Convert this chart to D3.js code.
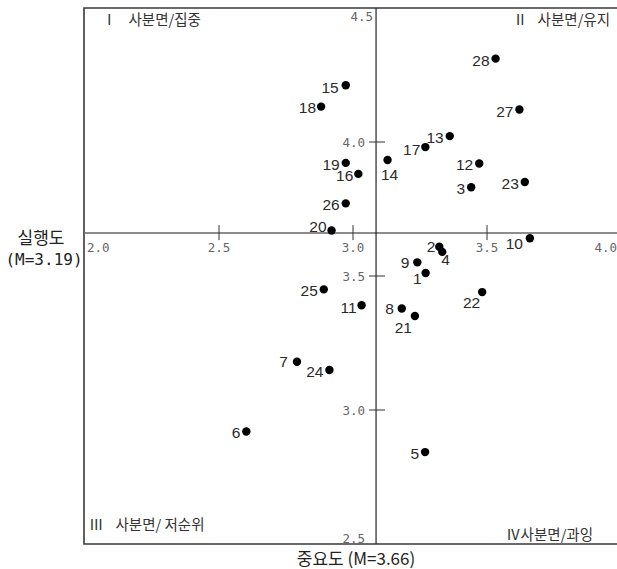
<!DOCTYPE html>
<html>
<head>
<meta charset="utf-8">
<script src="https://cdn.jsdelivr.net/npm/d3@7/dist/d3.min.js"></script>
<style>
  html, body { margin: 0; padding: 0; background: #fff; }
  svg { display: block; }
</style>
</head>
<body>
<div id="chart"></div>
<script>
// ---- data ----
const ids = [1,2,3,4,5,6,7,8,9,10,11,12,13,14,15,16,17,18,19,20,21,22,23,24,25,26,27,28];
const importance = [3.271,3.322,3.441,3.333,3.269,2.602,2.791,3.182,3.240,3.660,3.032,3.471,3.361,3.129,2.973,3.020,3.270,2.881,2.973,2.920,3.231,3.482,3.641,2.912,2.891,2.973,3.621,3.532];
const performance = [3.511,3.609,3.831,3.590,2.843,2.920,3.180,3.379,3.551,3.641,3.391,3.920,4.022,3.933,4.212,3.881,3.981,4.132,3.922,3.670,3.351,3.440,3.851,3.149,3.450,3.771,4.121,4.311];
const xTickValues = [2.0, 2.5, 3.0, 3.5, 4.0];
const xTickLabels = ["2.0", "2.5", "3.0", "3.5", "4.0"];
const yTickValues = [4.0, 3.5, 3.0];
const yTickLabels = ["4.0", "3.5", "3.0"];
const yEndLabels = ["4.5", "2.5"];
const crossX = 3.086;   // vertical reference line (importance)
const crossY = 3.66;    // horizontal reference line
const quadrantNumerals = ["Ⅰ", "Ⅱ", "Ⅲ", "Ⅳ"];
const quadrantNames = ["사분면/집중", "사분면/유지", "사분면/ 저순위", "사분면/과잉"];
const yTitle = ["실행도", "(M=3.19)"];
const xTitle = "중요도 (M=3.66)";

// label placement tweaks (layout only)
const labelOffsets = {
  1:[-4,11,"end"], 2:[-4,5,"end"], 4:[-1,13,"start"], 7:[-9,5,"end"], 8:[-8,6,"end"], 9:[-8,6,"end"],
  10:[-7,11,"end"], 14:[2,20,"middle"], 16:[-5,7,"end"], 20:[-5,2,"end"], 21:[-3,17,"end"], 22:[-2,16,"end"],
  11:[-5,8,"end"], 15:[-7,8,"end"], 17:[-5,8,"end"], 18:[-5,6,"end"]
};

const W = 617, H = 569;
const svg = d3.select("#chart").append("svg").attr("width", W).attr("height", H);

const x = d3.scaleLinear().domain([2.0, 4.0]).range([85, 621]);
const y = d3.scaleLinear().domain([2.5, 4.5]).range([544, 8]);

const mono = "'DejaVu Sans Mono', monospace";
const kr = "'Noto Sans CJK KR', sans-serif";

// frame
svg.append("path")
  .attr("d", `M${W+2},${y(4.5)}H${x(2.0)-1}V${y(2.5)}H${W+2}`)
  .attr("fill", "none").attr("stroke", "#3a3a3a").attr("stroke-width", 1.6);

// horizontal reference axis
svg.append("line")
  .attr("x1", x(2.0) - 1).attr("x2", W)
  .attr("y1", y(crossY)).attr("y2", y(crossY))
  .attr("stroke", "#666").attr("stroke-width", 1.5);

// vertical reference axis
svg.append("line")
  .attr("x1", x(crossX)).attr("x2", x(crossX))
  .attr("y1", y(4.5)).attr("y2", y(2.5))
  .attr("stroke", "#111").attr("stroke-width", 1.1);

// x ticks
const xt = svg.append("g");
xTickValues.forEach((v, i) => {
  if (i > 0 && i < xTickValues.length - 1) {
    xt.append("line")
      .attr("x1", x(v)).attr("x2", x(v))
      .attr("y1", y(crossY) - 8).attr("y2", y(crossY) + 7)
      .attr("stroke", "#333").attr("stroke-width", 1);
  }
  let anchor = "middle", px = x(v);
  if (i === 0) { anchor = "start"; px = x(v) + 2; }
  if (i === xTickValues.length - 1) { anchor = "end"; px = W; }
  xt.append("text")
    .attr("x", px).attr("y", y(crossY) + 19)
    .attr("text-anchor", anchor)
    .attr("font-family", mono).attr("font-size", 12.5).attr("fill", "#666")
    .text(xTickLabels[i]);
});

// y ticks
const yt = svg.append("g");
yTickValues.forEach((v, i) => {
  yt.append("line")
    .attr("x1", x(crossX) - 7).attr("x2", x(crossX) + 9)
    .attr("y1", y(v)).attr("y2", y(v))
    .attr("stroke", "#333").attr("stroke-width", 1);
  yt.append("text")
    .attr("x", x(crossX) - 11).attr("y", y(v) + 5)
    .attr("text-anchor", "end")
    .attr("font-family", mono).attr("font-size", 12.5).attr("fill", "#666")
    .text(yTickLabels[i]);
});
yt.append("text").attr("x", x(crossX) - 3).attr("y", y(4.5) + 13)
  .attr("text-anchor", "end").attr("font-family", mono).attr("font-size", 12.5).attr("fill", "#666")
  .text(yEndLabels[0]);
yt.append("text").attr("x", x(crossX) - 11).attr("y", y(2.5) - 1)
  .attr("text-anchor", "end").attr("font-family", mono).attr("font-size", 12.5).attr("fill", "#666")
  .text(yEndLabels[1]);

// quadrant labels
const q = svg.append("g").attr("font-family", kr).attr("font-size", 14.5).attr("fill", "#333");
const qPos = [[102, 25, "start", 12], [610, 25, "end", 10], [89, 530, "start", 12], [593, 540, "end", 0]];
qPos.forEach((p, i) => {
  const tx = q.append("text").attr("x", p[0]).attr("y", p[1]).attr("text-anchor", p[2]);
  tx.append("tspan").text(quadrantNumerals[i]);
  tx.append("tspan").attr("dx", p[3]).text(quadrantNames[i]);
});

// axis titles
const t = svg.append("g").attr("font-family", kr).attr("font-size", 17).attr("fill", "#222").attr("text-anchor", "middle");
t.append("text").attr("x", 41).attr("y", 244).text(yTitle[0]);
t.append("text").attr("x", 44).attr("y", 265).attr("font-family", mono).attr("font-size", 16).text(yTitle[1]);
t.append("text").attr("x", 356).attr("y", 565).text(xTitle);

// points
const pts = ids.map((id, i) => ({ id, imp: importance[i], perf: performance[i] }));
const g = svg.append("g");
g.selectAll("circle").data(pts).join("circle")
  .attr("cx", d => x(d.imp)).attr("cy", d => y(d.perf)).attr("r", 4.2).attr("fill", "#000");
g.selectAll("text").data(pts).join("text")
  .attr("x", d => x(d.imp) + (labelOffsets[d.id] ? labelOffsets[d.id][0] : -6))
  .attr("y", d => y(d.perf) + (labelOffsets[d.id] ? labelOffsets[d.id][1] : 7))
  .attr("text-anchor", d => labelOffsets[d.id] ? labelOffsets[d.id][2] : "end")
  .attr("font-family", "'Liberation Sans', Arial, sans-serif").attr("font-size", 15.5).attr("fill", "#2a2a2a")
  .text(d => d.id);
</script>
</body>
</html>
